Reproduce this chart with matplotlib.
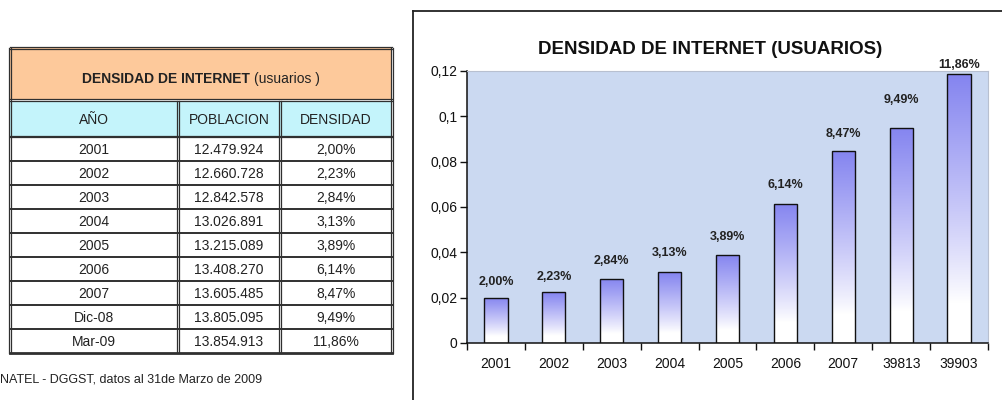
import matplotlib
matplotlib.use("Agg")
import matplotlib.pyplot as plt
import numpy as np
from matplotlib.ticker import FixedLocator, FuncFormatter

plt.rcParams['font.family'] = ['Liberation Sans Narrow', 'Liberation Sans', 'DejaVu Sans']

# ---------------- data ----------------
table_title_bold = "DENSIDAD DE INTERNET "
table_title_norm = "(usuarios )"
col_headers = ["AÑO", "POBLACION", "DENSIDAD"]
anios = ["2001", "2002", "2003", "2004", "2005", "2006", "2007", "Dic-08", "Mar-09"]
poblacion = ["12.479.924", "12.660.728", "12.842.578", "13.026.891", "13.215.089",
             "13.408.270", "13.605.485", "13.805.095", "13.854.913"]
densidad_txt = ["2,00%", "2,23%", "2,84%", "3,13%", "3,89%", "6,14%", "8,47%", "9,49%", "11,86%"]
densidad = [0.0200, 0.0223, 0.0284, 0.0313, 0.0389, 0.0614, 0.0847, 0.0949, 0.1186]
x_labels = ["2001", "2002", "2003", "2004", "2005", "2006", "2007", "39813", "39903"]
y_ticks = [0, 0.02, 0.04, 0.06, 0.08, 0.10, 0.12]
chart_title = "DENSIDAD DE INTERNET (USUARIOS)"
footnote = "NATEL - DGGST, datos al 31de Marzo de 2009"

W, H = 1002, 400
fig = plt.figure(figsize=(W / 100, H / 100), dpi=100)
fig.patch.set_facecolor("white")

# ---------------- overlay (pixel coordinates) for table & frame ----------------
ov = fig.add_axes([0, 0, 1, 1])
ov.set_xlim(0, W)
ov.set_ylim(H, 0)
ov.axis("off")

tx0, tx1 = 10, 392
col_x = [10, 178, 280, 392]
y_title_top, y_title_bot = 48, 99
y_head_top, y_head_bot = 101, 136
y_rows_top = 137
row_h = (353 - y_rows_top) / len(anios)
y_bottom = y_rows_top + row_h * len(anios)

ov.add_patch(plt.Rectangle((tx0, y_title_top), tx1 - tx0, y_title_bot - y_title_top,
                           facecolor="#fdc99b", edgecolor="none", zorder=1))
ov.add_patch(plt.Rectangle((tx0, y_head_top), tx1 - tx0, y_head_bot - y_head_top,
                           facecolor="#c4f4fb", edgecolor="none", zorder=1))

lc = "#303030"
def dline(x0, x1, y0, y1, gap=1.6, lw=0.9):
    if y0 == y1:
        ov.plot([x0, x1], [y0 - gap / 2, y1 - gap / 2], color=lc, lw=lw, zorder=3)
        ov.plot([x0, x1], [y0 + gap / 2, y1 + gap / 2], color=lc, lw=lw, zorder=3)
    else:
        ov.plot([x0 - gap / 2, x1 - gap / 2], [y0, y1], color=lc, lw=lw, zorder=3)
        ov.plot([x0 + gap / 2, x1 + gap / 2], [y0, y1], color=lc, lw=lw, zorder=3)

dline(tx0, tx1, y_title_top, y_title_top)
dline(tx0, tx1, y_title_bot + 1, y_title_bot + 1)
dline(tx0, tx1, y_head_bot + 0.5, y_head_bot + 0.5)
ov.plot([tx0, tx1], [y_bottom, y_bottom], color=lc, lw=2.0, zorder=3)
dline(tx0, tx0, y_title_top, y_bottom)
dline(tx1, tx1, y_title_top, y_bottom)
for cx in col_x[1:-1]:
    dline(cx, cx, y_head_top, y_bottom)
for i in range(1, len(anios)):
    yy = y_rows_top + i * row_h
    ov.plot([tx0, tx1], [yy, yy], color=lc, lw=1.4, zorder=3)

# two-part centred table title
tfs = 10
t1 = ov.text(0, 79, table_title_bold, ha="left", va="center",
             fontsize=tfs, fontweight="bold", color="#222222")
t2 = ov.text(0, 79, table_title_norm, ha="left", va="center",
             fontsize=tfs, color="#222222")
fig.canvas.draw()
r = fig.canvas.get_renderer()
w1 = t1.get_window_extent(r).width
w2 = t2.get_window_extent(r).width
xs = (tx0 + tx1) / 2 - (w1 + w2) / 2
t1.set_x(xs)
t2.set_x(xs + w1)

col_c = [(col_x[i] + col_x[i + 1]) / 2 for i in range(3)]
for c, h in zip(col_c, col_headers):
    ov.text(c, (y_head_top + y_head_bot) / 2 + 1, h, ha="center", va="center",
            fontsize=10, color="#222222")
for i in range(len(anios)):
    yc = y_rows_top + (i + 0.5) * row_h + 1
    for c, v in zip(col_c, [anios[i], poblacion[i], densidad_txt[i]]):
        ov.text(c, yc, v, ha="center", va="center", fontsize=10, color="#222222")

ov.text(0, 380, footnote, ha="left", va="center", fontsize=9, color="#222222")

# chart frame
ov.plot([413, W + 5], [11, 11], color="#222222", lw=1.3, zorder=3)
ov.plot([413, 413], [11, H + 5], color="#222222", lw=1.3, zorder=3)

# ---------------- bar chart ----------------
px_l, px_r, px_t, px_b = 467, 988, 71, 343
ax = fig.add_axes([px_l / W, 1 - px_b / H, (px_r - px_l) / W, (px_b - px_t) / H])
ax.set_facecolor("#cbd9f1")
n = len(densidad)
xpos = np.arange(n)
bars = ax.bar(xpos, densidad, width=0.4, facecolor="none", edgecolor="#111111",
              linewidth=1.0, zorder=3)
ax.set_xlim(-0.5, n - 0.5)
ax.set_ylim(0, 0.12)

# label offsets above bar tops (pixels), as placed in the original
label_off = [16, 15, 18, 19, 18, 19, 17, 28, 9]

top_col = np.array([0.52, 0.52, 0.94])
white = np.array([1.0, 1.0, 1.0])
t = np.linspace(0, 1, 256)  # 0 = bottom, 1 = top
frac = np.clip((t - 0.15) / 0.85, 0, 1)[:, None] ** 0.9
grad = (white * (1 - frac) + top_col * frac)[:, None, :]
for i, b in enumerate(bars):
    x0, w, h = b.get_x(), b.get_width(), b.get_height()
    im = ax.imshow(grad, extent=[x0, x0 + w, 0, h], origin="lower",
                   aspect="auto", zorder=2, interpolation="bilinear")
    im.set_clip_path(b)
    ax.annotate(densidad_txt[i], xy=(x0 + w / 2, h), xytext=(0, label_off[i] * 0.72),
                textcoords="offset points", ha="center", va="center",
                fontsize=9, fontweight="bold", color="#222222", annotation_clip=False)

ax.set_yticks(y_ticks)
ax.yaxis.set_major_formatter(FuncFormatter(
    lambda v, p: ("%g" % round(v, 2)).replace(".", ",")))
ax.tick_params(axis="y", direction="out", length=5, width=1, labelsize=10,
               pad=2, colors="#111111")
ax.xaxis.set_major_locator(FixedLocator(np.arange(n + 1) - 0.5))
ax.xaxis.set_minor_locator(FixedLocator(xpos))
ax.set_xticklabels([], minor=False)
ax.set_xticklabels(x_labels, minor=True)
ax.tick_params(axis="x", which="major", direction="out", length=5, width=1,
               colors="#111111")
ax.tick_params(axis="x", which="minor", length=0, labelsize=10, pad=10,
               colors="#111111")
for s in ["left", "bottom"]:
    ax.spines[s].set_color("#111111")
    ax.spines[s].set_linewidth(1.1)
for s in ["top", "right"]:
    ax.spines[s].set_color("#b8c0d0")
    ax.spines[s].set_linewidth(0.8)

fig.text(710 / W, 1 - 50 / H, chart_title, ha="center", va="center",
         fontsize=13.5, fontweight="bold", color="#111111")

fig.savefig("out.png", dpi=100)
